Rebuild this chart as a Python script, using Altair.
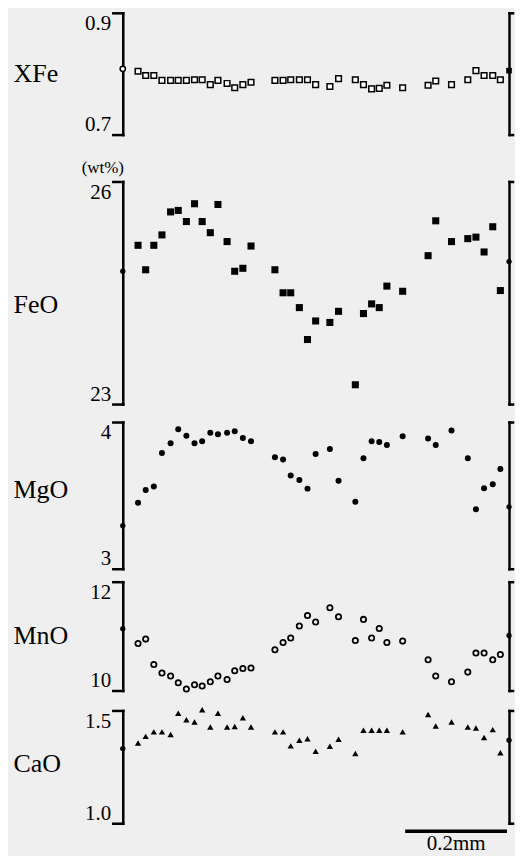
import altair as alt
import pandas as pd

# distance along the traverse (mm)
dist_mm = [0.030, 0.045, 0.061, 0.077, 0.094, 0.109, 0.125, 0.141, 0.156, 0.172,
           0.187, 0.205, 0.220, 0.236, 0.252, 0.299, 0.315, 0.330, 0.347, 0.363,
           0.379, 0.407, 0.424, 0.457, 0.473, 0.489, 0.504, 0.519, 0.550, 0.600,
           0.615, 0.646, 0.678, 0.694, 0.710, 0.727, 0.742]
X_MAX = 0.759

xfe = [0.804, 0.797, 0.797, 0.789, 0.789, 0.789, 0.789, 0.790, 0.790, 0.782,
       0.789, 0.784, 0.777, 0.782, 0.786, 0.789, 0.789, 0.790, 0.790, 0.790,
       0.782, 0.779, 0.792, 0.790, 0.782, 0.775, 0.776, 0.781, 0.777, 0.781,
       0.788, 0.782, 0.790, 0.805, 0.797, 0.797, 0.790]
feo = [25.14, 24.81, 25.14, 25.28, 25.59, 25.61, 25.46, 25.70, 25.46, 25.31,
       25.69, 25.19, 24.79, 24.83, 25.13, 24.81, 24.50, 24.50, 24.30, 23.87,
       24.12, 24.10, 24.25, 23.26, 24.22, 24.35, 24.30, 24.59, 24.52, 25.00,
       25.47, 25.19, 25.23, 25.25, 25.05, 25.39, 24.53]
mgo = [3.449, 3.537, 3.560, 3.789, 3.855, 3.950, 3.907, 3.855, 3.869, 3.927,
       3.916, 3.927, 3.937, 3.891, 3.869, 3.760, 3.744, 3.635, 3.605, 3.546,
       3.782, 3.816, 3.599, 3.456, 3.753, 3.869, 3.864, 3.844, 3.903, 3.887,
       3.844, 3.943, 3.753, 3.406, 3.549, 3.576, 3.680]
mno = [10.865, 10.945, 10.479, 10.320, 10.265, 10.142, 10.026, 10.105, 10.081, 10.160,
       10.265, 10.203, 10.363, 10.405, 10.412, 10.749, 10.883, 10.964, 11.185, 11.380,
       11.258, 11.522, 11.356, 10.920, 11.307, 10.964, 11.141, 10.883, 10.908, 10.565,
       10.265, 10.160, 10.338, 10.688, 10.688, 10.565, 10.663]
cao = [1.356, 1.385, 1.405, 1.405, 1.393, 1.488, 1.459, 1.449, 1.503, 1.427,
       1.488, 1.427, 1.429, 1.468, 1.427, 1.405, 1.405, 1.343, 1.368, 1.375,
       1.319, 1.341, 1.372, 1.309, 1.412, 1.412, 1.412, 1.412, 1.405, 1.482,
       1.431, 1.449, 1.427, 1.422, 1.380, 1.415, 1.312]

# rim values (left edge, right edge)
rim_xfe = [0.808, 0.805]
rim_feo = [24.79, 24.92]
rim_mgo = [3.293, 3.422]
rim_mno = [11.135, 11.012]
rim_cao = [1.331, 1.368]

scale_bar_mm = [0.555, 0.755]
scale_label = "0.2mm"
unit_label = "(wt%)"

FONT = "Liberation Serif"
xscale = alt.Scale(domain=[0, X_MAX], nice=False, zero=False)
X = alt.X("d:Q", scale=xscale, axis=None)


def left_axis(title, lo, hi, fmt, title_y):
    return alt.Axis(
        orient="left", values=[lo, hi], format=fmt, grid=False,
        domainColor="black", domainWidth=2.5, domainCap="square",
        tickColor="black", tickWidth=2.5, tickSize=10, tickCap="square",
        labelFlush=True, labelPadding=2, labelFont=FONT, labelFontSize=21,
        labelColor="black",
        title=title, titleAngle=0, titleX=-110, titleY=title_y,
        titleAlign="left", titleBaseline="middle", titleFont=FONT,
        titleFontSize=26, titleFontWeight="normal", titleColor="black",
    )


def right_axis(lo, hi):
    return alt.Axis(
        orient="right", values=[lo, hi], labels=False, grid=False, title=None,
        domainColor="black", domainWidth=2.5, domainCap="square",
        tickColor="black", tickWidth=2.5, tickSize=3.5, tickCap="square",
    )


def panel(title, values, lo, hi, fmt, rng, view_h, title_y, mark, rims,
          left_rim_mark=None, right_rim_mark=None, extra=None):
    yscale = alt.Scale(domain=[lo, hi], range=[rng, 0], nice=False, zero=False)
    df = pd.DataFrame({"d": dist_mm, "v": values})
    pts = mark(alt.Chart(df)).encode(
        x=X, y=alt.Y("v:Q", scale=yscale, axis=left_axis(title, lo, hi, fmt, title_y))
    )
    lrim = pd.DataFrame({"d": [0.0], "v": [rims[0]]})
    rrim = pd.DataFrame({"d": [X_MAX], "v": [rims[1]]})
    lm = left_rim_mark or (lambda c: c.mark_circle(size=28, color="black", opacity=1))
    rm = right_rim_mark or (lambda c: c.mark_circle(size=28, color="black", opacity=1))
    l_layer = lm(alt.Chart(lrim)).encode(x=X, y=alt.Y("v:Q", scale=yscale, axis=None))
    r_layer = rm(alt.Chart(rrim)).encode(
        x=X, y=alt.Y("v:Q", scale=yscale, axis=right_axis(lo, hi))
    )
    layers = [pts, r_layer, l_layer] + (extra or [])
    return alt.layer(*layers).resolve_axis(y="independent").properties(
        width=387, height=view_h
    )


unit_text = alt.Chart(pd.DataFrame({"t": [unit_label]})).mark_text(
    font=FONT, fontSize=17, color="black", align="center", baseline="middle"
).encode(x=alt.value(-20), y=alt.value(155), text="t:N")

p1 = panel(
    "XFe", xfe, 0.7, 0.9, ".1f", 122, 169, 61,
    lambda c: c.mark_point(shape="square", size=32, filled=False, fill="white",
                           stroke="black", strokeWidth=1.5, opacity=1),
    rim_xfe,
    left_rim_mark=lambda c: c.mark_point(shape="circle", size=28, fill="white",
                                         stroke="black", strokeWidth=1.5, opacity=1),
    right_rim_mark=lambda c: c.mark_square(size=32, color="black", opacity=1),
    extra=[unit_text],
)

p2 = panel(
    "FeO", feo, 23, 26, "d", 223, 241, 123,
    lambda c: c.mark_square(size=50, color="black", opacity=1),
    rim_feo,
)

p3 = panel(
    "MgO", mgo, 3, 4, "d", 147, 160, 68,
    lambda c: c.mark_circle(size=36, color="black", opacity=1),
    rim_mgo,
)

p4 = panel(
    "MnO", mno, 10, 12, "d", 109, 129, 54,
    lambda c: c.mark_point(shape="circle", size=28, filled=False, stroke="black",
                           strokeWidth=1.8, opacity=1),
    rim_mno,
)

bar_df = pd.DataFrame({"x1": [scale_bar_mm[0]], "x2": [scale_bar_mm[1]],
                       "xm": [(scale_bar_mm[0] + scale_bar_mm[1]) / 2],
                       "t": [scale_label]})
bar = alt.Chart(bar_df).mark_rule(color="black", strokeWidth=3.5).encode(
    x=alt.X("x1:Q", scale=xscale, axis=None), x2="x2:Q", y=alt.value(121)
)
bar_text = alt.Chart(bar_df).mark_text(
    font=FONT, fontSize=21, color="black", align="center", baseline="alphabetic",
).encode(x=alt.X("xm:Q", scale=xscale, axis=None), y=alt.value(140), text="t:N")

p5 = panel(
    "CaO", cao, 1.0, 1.5, ".1f", 113, 145, 53,
    lambda c: c.mark_point(shape="triangle-up", size=40, filled=True,
                           color="black", opacity=1),
    rim_cao,
    extra=[bar, bar_text],
)

chart = alt.vconcat(p1, p2, p3, p4, p5, spacing=0, bounds="flush").properties(
    padding={"left": 5, "top": 2, "right": 0, "bottom": 0}
).configure(background="#efefef").configure_view(stroke=None)

chart.save("out.html", embed_options={"renderer": "svg", "actions": False})
